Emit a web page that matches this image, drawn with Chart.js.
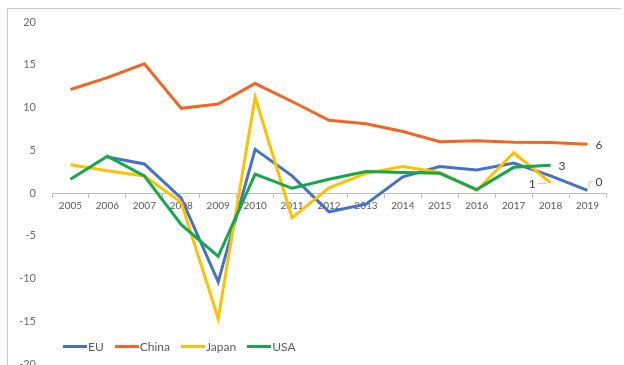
<!DOCTYPE html>
<html>
<head>
<meta charset="utf-8">
<script src="https://cdn.jsdelivr.net/npm/chart.js@4"></script>
<style>
    html, body { margin: 0; padding: 0; background: #fff; overflow: hidden; }
    body { width: 624px; height: 365px; position: relative; font-family: Lato, "Open Sans", sans-serif; }
    .frame { position: absolute; left: 7px; top: 8px; width: 613px; height: 380px; border-top: 1.5px solid #c9c9c9; border-left: 1.5px solid #c9c9c9; }
    #wrap { position: absolute; left: 0; top: 0; width: 624px; height: 380px; }
    .legend { position: absolute; left: 63px; top: 339px; display: flex; align-items: center; font-size: 12px; color: #595959; }
    .legend-item { display: flex; align-items: center; margin-right: 11px; }
    .legend-item i { display: inline-block; width: 24px; height: 3px; margin-right: 1px; }
</style>
</head>
<body>
<div class="frame"></div>
<div id="wrap"><canvas id="growthChart" width="624" height="380"></canvas></div>
<div class="legend" id="legend"></div>

<script>
// Real GDP growth, % per year
const years = ['2005', '2006', '2007', '2008', '2009', '2010', '2011', '2012', '2013', '2014', '2015', '2016', '2017', '2018', '2019'];
const euValues = [null, 4.2, 3.4, -0.6, -10.4, 5.1, 2.0, -2.2, -1.3, 1.9, 3.1, 2.7, 3.5, 2.0, 0.3];
const chinaValues = [12.1, 13.5, 15.1, 9.9, 10.4, 12.8, 10.7, 8.5, 8.1, 7.2, 6.0, 6.1, 5.95, 5.9, 5.7];
const japanValues = [3.3, 2.6, 2.0, -1.1, -14.7, 11.2, -2.9, 0.6, 2.3, 3.1, 2.4, 0.3, 4.7, 1.2, null];
const usaValues = [1.6, 4.3, 2.0, -3.7, -7.4, 2.2, 0.55, 1.6, 2.5, 2.4, 2.3, 0.4, 3.0, 3.25, null];
const yTicks = [-20, -15, -10, -5, 0, 5, 10, 15, 20];

const seriesNames = ['EU', 'China', 'Japan', 'USA'];
const seriesColors = ['#4472C4', '#F26522', '#FFC000', '#13A84A'];

// last value label of each line, rounded like the source
function lastIndex(arr) {
    for (let i = arr.length - 1; i >= 0; i--) {
        if (arr[i] !== null) return i;
    }
    return -1;
}

const endLabelPlugin = {
    id: 'endLabels',
    afterDatasetsDraw(chart) {
        const ctx = chart.ctx;
        ctx.save();
        ctx.font = '12px Lato, "Open Sans", sans-serif';
        ctx.fillStyle = '#404040';
        ctx.textBaseline = 'middle';
        chart.data.datasets.forEach((ds, i) => {
            const idx = lastIndex(ds.data);
            const pt = chart.getDatasetMeta(i).data[idx];
            if (!pt) return;
            const text = String(Math.round(ds.data[idx]));
            const name = seriesNames[i];
            if (name === 'Japan') {
                // label left of the point with a short leader
                ctx.strokeStyle = '#bfbfbf';
                ctx.lineWidth = 1;
                ctx.beginPath();
                ctx.moveTo(pt.x - 13, pt.y + 0.5);
                ctx.lineTo(pt.x - 4, pt.y + 0.5);
                ctx.stroke();
                ctx.textAlign = 'right';
                ctx.fillText(text, pt.x - 15, pt.y + 1);
            } else if (name === 'EU') {
                ctx.strokeStyle = '#bfbfbf';
                ctx.lineWidth = 1;
                ctx.beginPath();
                ctx.moveTo(pt.x + 1.5, pt.y - 3);
                ctx.lineTo(pt.x + 1.5, pt.y - 8.5);
                ctx.lineTo(pt.x + 5, pt.y - 8.5);
                ctx.stroke();
                ctx.textAlign = 'left';
                ctx.fillText(text, pt.x + 8, pt.y - 8);
            } else {
                ctx.textAlign = 'left';
                ctx.fillText(text, pt.x + 8, pt.y + 1);
            }
        });
        ctx.restore();
    }
};

const valueSets = [euValues, chinaValues, japanValues, usaValues];

const ctx = document.getElementById('growthChart').getContext('2d');
const growthChart = new Chart(ctx, {
    type: 'line',
    data: {
        labels: years,
        datasets: seriesNames.map((name, i) => ({
            label: name,
            data: valueSets[i],
            borderColor: seriesColors[i],
            backgroundColor: seriesColors[i],
            borderWidth: 3,
            pointRadius: 0,
            tension: 0,
            fill: false,
            spanGaps: false,
            order: seriesNames.length - i
        }))
    },
    options: {
        responsive: false,
        animation: false,
        layout: {
            padding: { left: 0, right: 18, top: 22, bottom: 16 }
        },
        plugins: {
            legend: { display: false },
            tooltip: { enabled: false }
        },
        scales: {
            x: {
                position: { y: 0 },
                offset: true,
                grid: {
                    display: true,
                    drawOnChartArea: false,
                    drawTicks: true,
                    tickLength: 4,
                    color: '#bfbfbf',
                    offset: true
                },
                border: { display: true, color: '#bfbfbf', width: 1 },
                ticks: {
                    color: '#595959',
                    font: { family: 'Lato, "Open Sans", sans-serif', size: 10 },
                    maxRotation: 0,
                    autoSkip: false,
                    padding: 3
                }
            },
            y: {
                min: -20,
                max: 20,
                afterFit(scale) { scale.width = 52; },
                afterBuildTicks(scale) { scale.ticks = yTicks.map(v => ({ value: v })); },
                grid: { display: false },
                border: { display: false },
                ticks: {
                    color: '#6b6b6b',
                    font: { family: 'Lato, "Open Sans", sans-serif', size: 11 },
                    padding: 8
                }
            }
        }
    },
    plugins: [endLabelPlugin]
});

// custom legend, sits inside the plot like the source
document.getElementById('legend').innerHTML = seriesNames.map((name, i) => `
    <span class="legend-item"><i style="background:${seriesColors[i]}"></i>${name}</span>
`).join('');
</script>
</body>
</html>
